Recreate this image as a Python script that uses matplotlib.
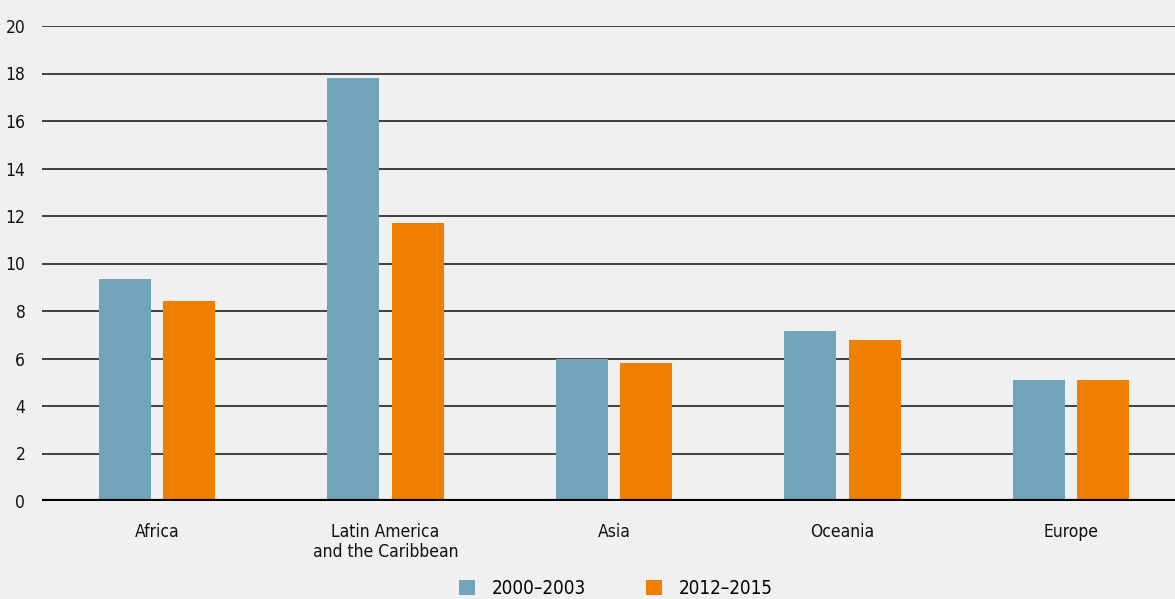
import numpy as np
import matplotlib.pyplot as plt
from matplotlib.patches import Patch

# regions and values
regions = ['Africa', 'Latin America\nand the Caribbean', 'Asia', 'Oceania', 'Europe']
period_labels = ['2000\u20132003', '2012\u20132015']
values_2000_2003 = [9.35, 17.8, 5.97, 7.16, 5.09]
values_2012_2015 = [8.42, 11.7, 5.81, 6.78, 5.09]
y_ticks = [0, 2, 4, 6, 8, 10, 12, 14, 16, 18, 20]

bg = '#f0f0f0'
blue = '#71a5bb'
orange = '#f07f00'

plt.rcParams['font.family'] = ['DejaVu Sans']
plt.rcParams['font.stretch'] = 'condensed'

fig = plt.figure(figsize=(11.75, 5.99), dpi=100, facecolor=bg)
ax = fig.add_axes([42 / 1175, 98 / 599, 1 - 42 / 1175, 475 / 599])
ax.set_facecolor(bg)

x = np.arange(len(regions))
width = 0.227
offset = 0.141
ax.bar(x - offset, values_2000_2003, width, color=blue, zorder=3)
ax.bar(x + offset, values_2012_2015, width, color=orange, zorder=3)

ax.set_xlim(-0.503, 4.455)
ax.set_ylim(0, 20)
ax.set_yticks(y_ticks)
ax.set_yticklabels([str(t) for t in y_ticks], fontsize=12.5)
ax.set_xticks(x)
ax.set_xticklabels(regions, fontsize=12.5, linespacing=1.1)
ax.tick_params(axis='both', length=0, colors='#111111')
ax.tick_params(axis='y', pad=12)
ax.tick_params(axis='x', pad=16)

ax.grid(axis='y', color='#222222', linewidth=1.2, zorder=1)
ax.axhline(0, color='black', linewidth=3, zorder=4)
for s in ax.spines.values():
    s.set_visible(False)

handles = [Patch(facecolor=blue, label=period_labels[0]),
           Patch(facecolor=orange, label=period_labels[1])]
fig.legend(handles=handles, loc='lower center', bbox_to_anchor=(0.524, -0.027), ncol=2,
           frameon=False, fontsize=13.5, handlelength=0.85, handleheight=0.85,
           handletextpad=0.9, columnspacing=3.2)

fig.savefig('out.png', dpi=100, facecolor=bg)
